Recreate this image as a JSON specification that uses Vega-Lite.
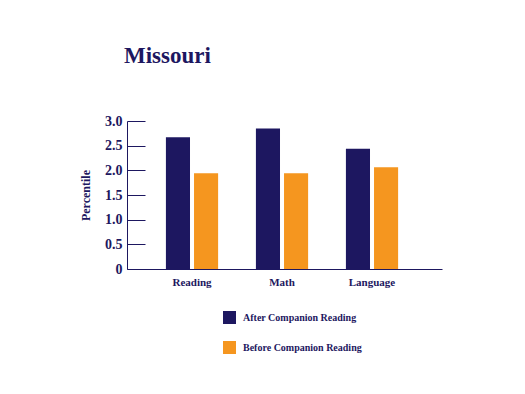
{
  "$schema": "https://vega.github.io/schema/vega-lite/v6.json",
  "autosize": {"type": "none"},
  "width": 315,
  "height": 148,
  "padding": {"left": 127, "top": 121, "right": 83, "bottom": 125},
  "background": "white",
  "title": {
    "text": "Missouri",
    "anchor": "start",
    "frame": "group",
    "dx": -3,
    "offset": 46,
    "font": "Liberation Serif",
    "fontSize": 23,
    "fontWeight": "bold",
    "color": "#1d1760"
  },
  "data": {
    "values": [
      {"subject": "Reading", "period": "After Companion Reading", "value": 2.67},
      {"subject": "Reading", "period": "Before Companion Reading", "value": 1.94},
      {"subject": "Math", "period": "After Companion Reading", "value": 2.85},
      {"subject": "Math", "period": "Before Companion Reading", "value": 1.94},
      {"subject": "Language", "period": "After Companion Reading", "value": 2.44},
      {"subject": "Language", "period": "Before Companion Reading", "value": 2.06}
    ]
  },
  "mark": {"type": "bar"},
  "encoding": {
    "x": {
      "field": "subject",
      "type": "nominal",
      "sort": ["Reading", "Math", "Language"],
      "scale": {"paddingInner": 0.42, "paddingOuter": 0.46, "align": 0.47},
      "axis": {
        "title": null,
        "labelAngle": 0,
        "ticks": false,
        "domainColor": "#1d1760",
        "domainWidth": 1,
        "labelFont": "Liberation Serif",
        "labelFontSize": 11,
        "labelFontWeight": "bold",
        "labelColor": "#1d1760",
        "labelPadding": 7
      }
    },
    "xOffset": {
      "field": "period",
      "type": "nominal",
      "scale": {"paddingInner": 0.143, "paddingOuter": 0}
    },
    "y": {
      "field": "value",
      "type": "quantitative",
      "scale": {"domain": [0, 3], "nice": false},
      "axis": {
        "title": "Percentile",
        "values": [0, 0.5, 1, 1.5, 2, 2.5, 3],
        "labelExpr": "datum.value == 0 ? '0' : format(datum.value, '.1f')",
        "grid": false,
        "tickSize": -18,
        "tickColor": "#1d1760",
        "domainColor": "#1d1760",
        "labelFont": "Liberation Serif",
        "labelFontSize": 14,
        "labelFontWeight": "bold",
        "labelColor": "#1d1760",
        "labelPadding": 23,
        "titleFont": "Liberation Serif",
        "titleFontSize": 12,
        "titleFontWeight": "bold",
        "titleColor": "#1d1760",
        "titlePadding": 12
      }
    },
    "color": {
      "field": "period",
      "type": "nominal",
      "scale": {
        "domain": ["After Companion Reading", "Before Companion Reading"],
        "range": ["#1d1760", "#f5961f"]
      },
      "legend": {
        "title": null,
        "orient": "none",
        "legendX": 96,
        "legendY": 190,
        "symbolType": "square",
        "symbolSize": 169,
        "symbolStrokeWidth": 0,
        "symbolOpacity": 1,
        "rowPadding": 17,
        "labelOffset": 7,
        "labelFont": "Liberation Serif",
        "labelFontSize": 10,
        "labelFontWeight": "bold",
        "labelColor": "#1d1760"
      }
    }
  },
  "config": {
    "view": {"stroke": null}
  }
}
